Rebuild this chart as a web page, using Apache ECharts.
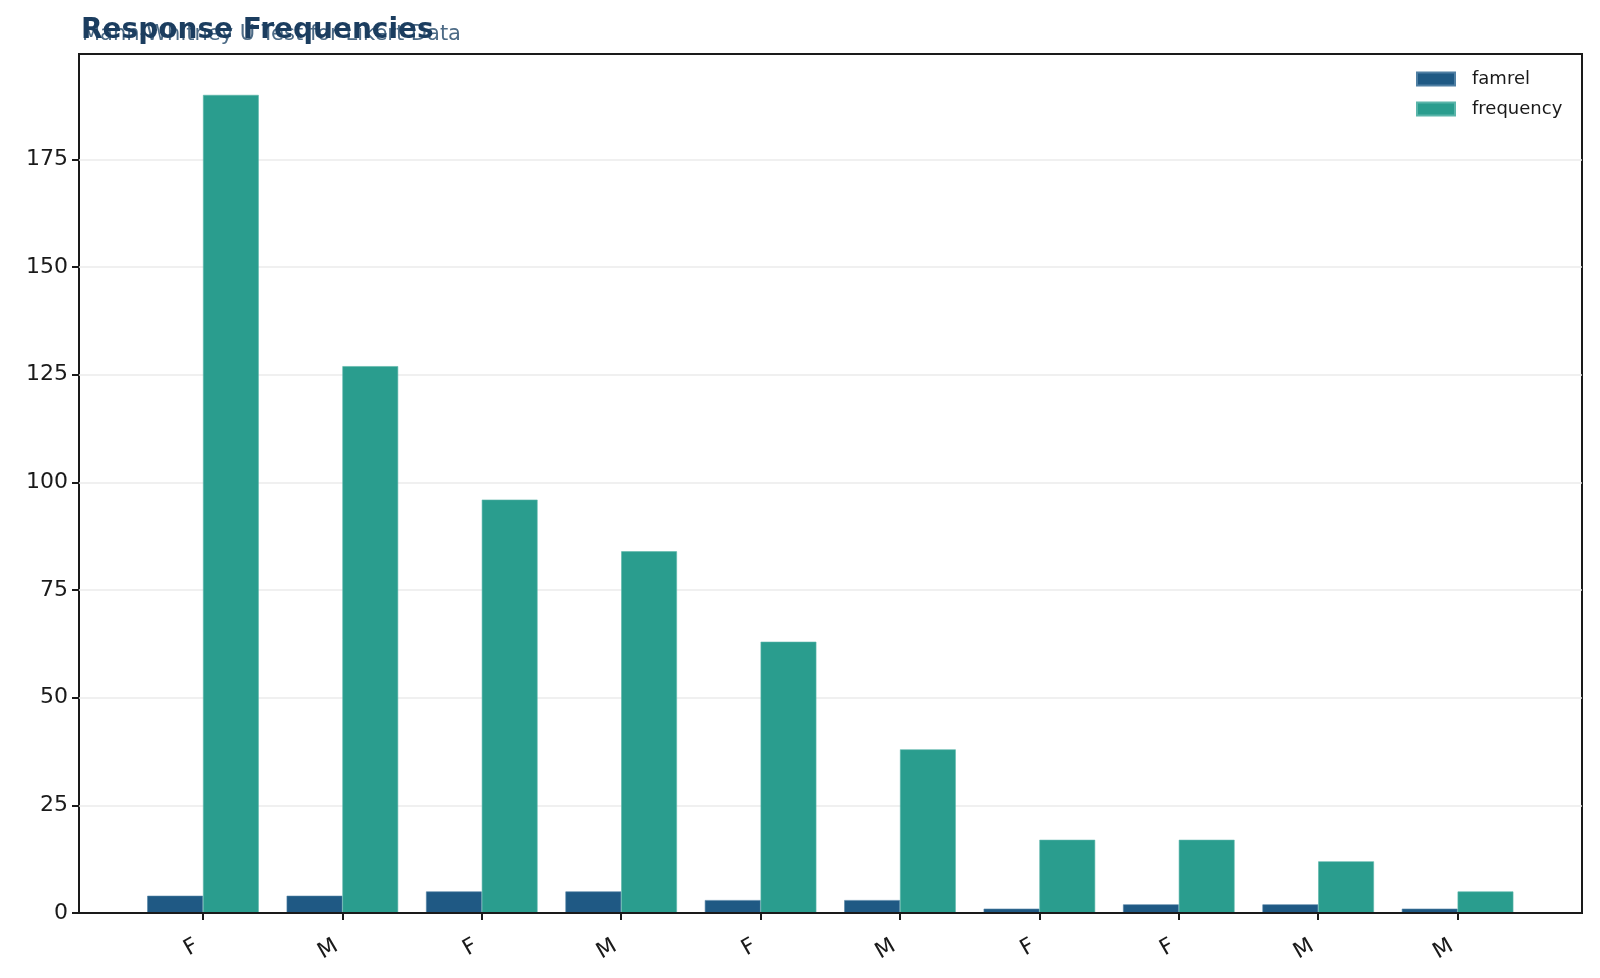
<!DOCTYPE html>
<html lang="en">
<head>
  <meta charset="UTF-8">
  <title>Response Frequencies</title>
  <script src="https://cdn.jsdelivr.net/npm/echarts@6/dist/echarts.min.js"></script>
  <style>
    html, body { margin: 0; padding: 0; background: #fff; }
  </style>
</head>
<body>
  <div id="main" style="width: 1600px;height:978px;"></div>
<script type="text/javascript">
  // data
  var categories = ['F', 'M', 'F', 'M', 'F', 'M', 'F', 'F', 'M', 'M'];
  var famrel = [4, 4, 5, 5, 3, 3, 1, 2, 2, 1];
  var frequency = [190, 127, 96, 84, 63, 38, 17, 17, 12, 5];
  var yTicks = [0, 25, 50, 75, 100, 125, 150, 175];

  var yMax = 199.5;
  var font = 'DejaVu Sans';
  var ink = '#1a1a1a';

  var app = echarts.init(document.getElementById('main'));

  var option = {
    animation: false,
    textStyle: { fontFamily: font },
    title: [
      {
        text: 'Mann-Whitney U Test for Likert Data',
        left: 77, top: 19,
        textStyle: { fontFamily: font, fontSize: 21, fontWeight: 'normal', color: '#4d6b86' }
      },
      {
        text: 'Response Frequencies',
        left: 76, top: 12,
        textStyle: { fontFamily: font, fontSize: 28, fontWeight: 'bold', color: '#1b3d5f' }
      }
    ],
    legend: {
      data: ['famrel', 'frequency'],
      orient: 'vertical',
      left: 1411, top: 65,
      itemWidth: 38, itemHeight: 13, itemGap: 12,
      icon: 'rect',
      textStyle: { fontFamily: font, fontSize: 18, color: ink, padding: [0, 0, 0, 12] }
    },
    grid: [
      // frame grid: border, y labels and gridlines
      { left: 79, right: 18, top: 54, bottom: 65, show: true, borderColor: ink, borderWidth: 2, backgroundColor: 'transparent' },
      // data grid: categories 139.4px apart, matching the reference tick spacing
      { left: 133.3, width: 1394, top: 54, bottom: 65 }
    ],
    xAxis: [
      {
        // bottom frame line, drawn over the zero gridline
        type: 'value', gridIndex: 0, min: 0, max: 1, z: 5,
        axisLine: { show: true, lineStyle: { color: ink, width: 2 } },
        axisTick: { show: false }, axisLabel: { show: false }, splitLine: { show: false }
      },
      {
        type: 'category', gridIndex: 1, data: categories,
        axisLine: { show: false },
        axisTick: { show: true, alignWithLabel: true, length: 7, lineStyle: { color: ink, width: 2 } },
        axisLabel: { rotate: 30, fontSize: 22, color: ink, margin: 28, padding: [0, 7, 0, 0], interval: 0 }
      }
    ],
    yAxis: [
      {
        type: 'value', gridIndex: 0, min: 0, max: yMax, interval: 25,
        axisLine: { show: false },
        axisTick: { show: true, length: 7, customValues: yTicks, lineStyle: { color: ink, width: 2 } },
        axisLabel: { fontSize: 22, color: ink, margin: 11, customValues: yTicks },
        splitLine: { show: true, lineStyle: { color: '#ebebeb', width: 1.5 } }
      },
      { type: 'value', gridIndex: 1, min: 0, max: yMax, show: false }
    ],
    series: [
      {
        name: 'famrel', type: 'bar', xAxisIndex: 1, yAxisIndex: 1,
        barWidth: '40%', barGap: '0%',
        itemStyle: { color: '#1f5984', borderColor: '#4f7fa3', borderWidth: 0.6 },
        data: famrel
      },
      {
        name: 'frequency', type: 'bar', xAxisIndex: 1, yAxisIndex: 1,
        barWidth: '40%', barGap: '0%',
        itemStyle: { color: '#2a9d8e', borderColor: '#5ab5aa', borderWidth: 0.6 },
        data: frequency
      }
    ]
  };

  app.setOption(option);
</script>
</body>
</html>
